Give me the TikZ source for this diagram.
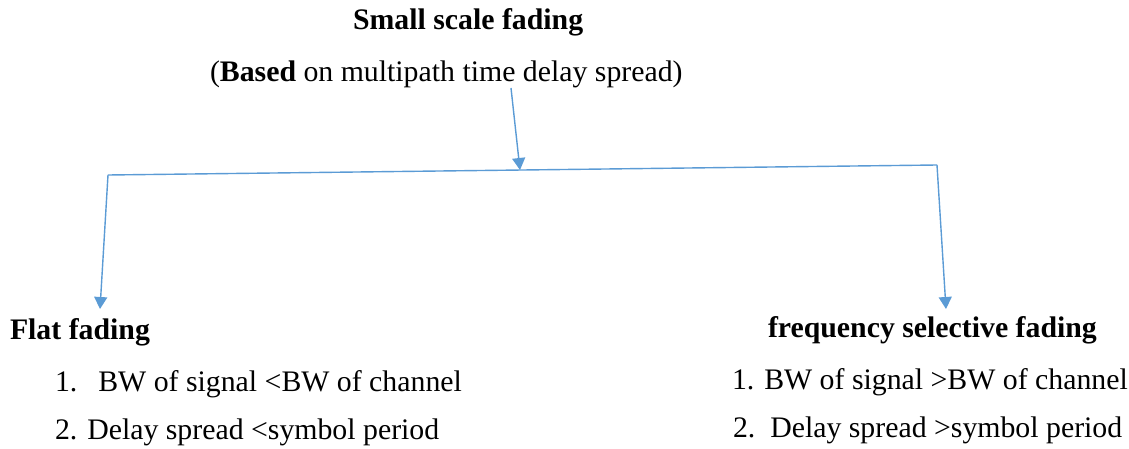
\documentclass[tikz,border=0pt]{standalone}
\usepackage{fontspec}
\setmainfont{LiberationSerif}[Extension=.ttf, UprightFont=*-Regular, BoldFont=*-Bold, ItalicFont=*-Italic, BoldItalicFont=*-BoldItalic]
\usetikzlibrary{arrows.meta}
\definecolor{linkblue}{HTML}{5B9BD5}
\tikzset{
  txt/.style={inner sep=0pt, outer sep=0pt, anchor=base west, font=\fontsize{29.8}{34}\selectfont},
  head/.style={txt, font=\fontsize{29.8}{34}\selectfont\bfseries},
  link/.style={draw=linkblue, line width=1.4pt},
  tip/.style={link, -{Triangle[width=13pt,length=12pt]}}
}
\begin{document}
\begin{tikzpicture}[x=1pt,y=-1pt]
  \useasboundingbox (0,0) rectangle (1129,449);

  % title block
  \node[head] (title) at (353,30) {Small scale fading};
  \node[txt] (basis) at (210,82) {(\textbf{Based} on multipath time delay spread)};

  % left branch
  \node[head] (flat) at (10,339) {Flat fading};
  \node[txt] (flat1) at (55,391) {1.\hspace{21pt}BW of signal <BW of channel};
  \node[txt] (flat2) at (55,439) {2. Delay spread <symbol period};

  % right branch
  \node[head] (sel) at (768,337) {frequency selective fading};
  \node[txt] (sel1) at (732,389) {1. BW of signal >BW of channel};
  \node[txt] (sel2) at (733,437) {2.\ \ Delay spread >symbol period};

  % splitter
  \coordinate (src) at (511,88);
  \coordinate (join) at (520,170);
  \coordinate (cornerL) at (108,175);
  \coordinate (cornerR) at (937,165);
  \coordinate (tipL) at (100,309);
  \coordinate (tipR) at (946,309);

  \draw[tip] (src) -- (join);
  \draw[link] (cornerL) -- (cornerR);
  \draw[tip] (cornerL) -- (tipL);
  \draw[tip] (cornerR) -- (tipR);
\end{tikzpicture}
\end{document}
